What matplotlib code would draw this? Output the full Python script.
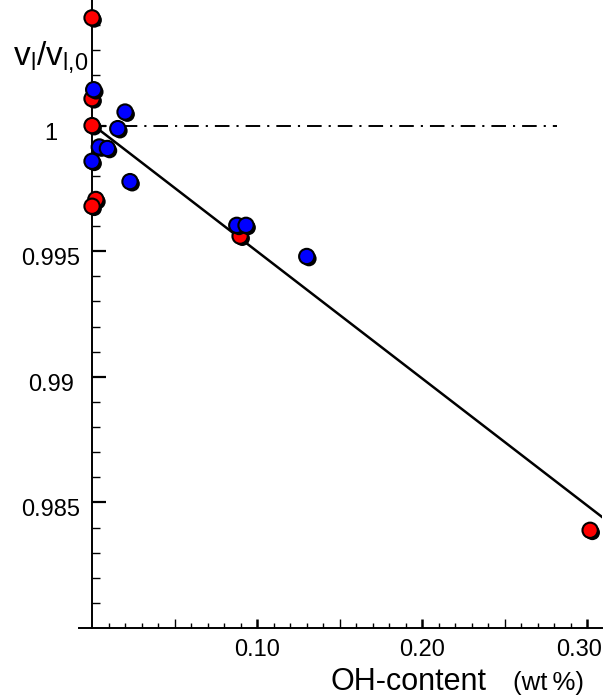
import matplotlib
matplotlib.use("Agg")
import matplotlib.pyplot as plt
import matplotlib.patheffects as pe
import matplotlib.transforms as mtransforms
from matplotlib.ticker import FixedLocator, FixedFormatter

plt.rcParams['font.family'] = ['Liberation Sans', 'DejaVu Sans']
plt.rcParams['mathtext.fontset'] = 'custom'
plt.rcParams['mathtext.rm'] = 'Liberation Sans'
plt.rcParams['mathtext.it'] = 'Liberation Sans'

# data
red_oh = [0.0, 0.0, 0.0, 0.0023, 0.0, 0.0897, 0.3018]
red_v = [1.00429, 1.00107, 1.00000, 0.99706, 0.99679, 0.99560, 0.98389]
blue_oh = [0.0010, 0.0200, 0.0156, 0.0044, 0.0093, 0.0, 0.0230, 0.0877, 0.0933, 0.1301]
blue_v = [1.00143, 1.00054, 0.99988, 0.99915, 0.99909, 0.99858, 0.99777, 0.99603, 0.99603, 0.99479]
fit_oh = [0.003, 0.310]
fit_v = [0.99990, 0.98437]
ref_oh = [0.0, 0.282]
ref_v = [1.0, 1.0]

x_major = [0.05, 0.10, 0.15, 0.20, 0.25, 0.30]
x_major_labels = ["", "0.10", "", "0.20", "", "0.30"]
x_minor = [round(0.01 * i, 2) for i in range(1, 31)]
y_major = [0.985, 0.99, 0.995, 1.0]
y_major_labels = ["0.985", "0.99", "0.995", "1"]
y_minor = [round(0.980 + 0.001 * i, 3) for i in range(1, 25)]

fig = plt.figure(figsize=(6.05, 7.0), dpi=100)
ax = fig.add_axes([79 / 605, 1 - 628 / 700, 523 / 605, 628 / 700])
ax.set_xlim(-0.0079, 0.309)
ax.set_ylim(0.980, 1.005)

# reference line and fit
ax.plot(ref_oh, ref_v, color="black", lw=1.4, linestyle=(0, (7.5, 3.6, 1.1, 3.6)), zorder=2)
ax.plot(fit_oh, fit_v, color="black", lw=1.8, solid_capstyle="butt", zorder=2)

shadow = [pe.SimplePatchShadow(offset=(1.6, -1.6), shadow_rgbFace="black", alpha=1.0), pe.Normal()]
ax.plot(red_oh, red_v, "o", ms=11, mfc="#ff0000", mec="black", mew=1.5,
        path_effects=shadow, clip_on=False, zorder=3)
ax.plot(blue_oh, blue_v, "o", ms=11, mfc="#0000ff", mec="black", mew=1.5,
        path_effects=shadow, clip_on=False, zorder=4)

# axes look
for side in ["top", "right"]:
    ax.spines[side].set_visible(False)
ax.spines["left"].set_position(("data", 0.0))
ax.spines["left"].set_linewidth(1.4)
ax.spines["bottom"].set_linewidth(1.4)

ax.xaxis.set_major_locator(FixedLocator(x_major))
ax.xaxis.set_major_formatter(FixedFormatter(x_major_labels))
ax.xaxis.set_minor_locator(FixedLocator(x_minor))
ax.yaxis.set_major_locator(FixedLocator(y_major))
ax.yaxis.set_major_formatter(FixedFormatter(y_major_labels))
ax.yaxis.set_minor_locator(FixedLocator(y_minor))

ax.tick_params(axis="x", which="major", direction="in", length=6.5, width=1.0,
               labelsize=17, pad=8)
ax.tick_params(axis="x", which="minor", direction="in", length=3.6, width=1.0)
ax.tick_params(axis="y", which="major", direction="in", length=10, width=1.6,
               labelsize=17, pad=29.5)
ax.tick_params(axis="y", which="minor", direction="in", length=5.5, width=1.0)

# thicker ticks at the labelled positions, nudge 0.30 label so it stays inside
for i, tick in enumerate(ax.xaxis.get_major_ticks()):
    if x_major_labels[i]:
        tick.tick1line.set_markeredgewidth(1.8)
last = ax.xaxis.get_major_ticks()[-1].label1
last.set_transform(last.get_transform()
                   + mtransforms.ScaledTranslation(-6 / 72, 0, fig.dpi_scale_trans))

# y labels are centred on a column and sit a little below their ticks
for tick in ax.yaxis.get_major_ticks():
    lbl = tick.label1
    lbl.set_horizontalalignment("center")
    lbl.set_transform(lbl.get_transform()
                      + mtransforms.ScaledTranslation(0, -4 / 72, fig.dpi_scale_trans))

fig.text(13 / 605, 1 - 65 / 700, r"$\mathregular{v_l/v_{l{,}0}}$", fontsize=24,
         ha="left", va="baseline")
fig.text(330 / 605, 1 - 690 / 700, "OH-content", fontsize=22, ha="left", va="baseline")
fig.text(513 / 605, 1 - 690 / 700, "(wt\u2009%)", fontsize=18.5, ha="left", va="baseline")

fig.savefig("out.png", dpi=100)
